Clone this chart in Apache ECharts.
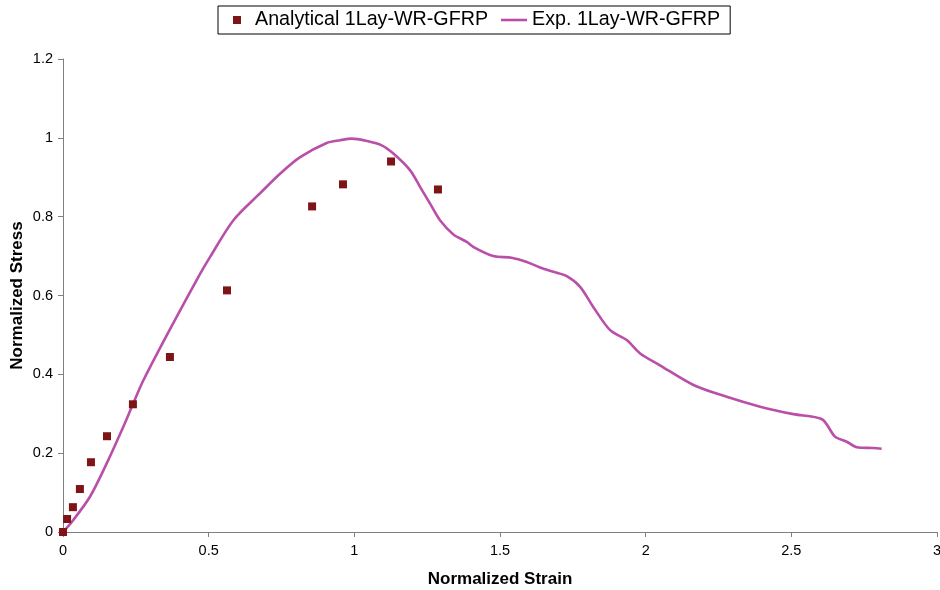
<!DOCTYPE html>
<html>
<head>
<meta charset="utf-8">
<script src="https://cdn.jsdelivr.net/npm/echarts@6/dist/echarts.min.js"></script>
<style>html,body{margin:0;padding:0;background:#fff}#c{width:940px;height:590px}</style>
</head>
<body>
<div id="c"></div>
<script>
var analyticalStrain = [0, 0.014, 0.034, 0.058, 0.096, 0.151, 0.240, 0.367, 0.563, 0.855, 0.961, 1.126, 1.287];
var analyticalStress = [0, 0.033, 0.063, 0.109, 0.177, 0.243, 0.324, 0.444, 0.613, 0.826, 0.882, 0.940, 0.869];
var expStrain = [0, 0.035, 0.093, 0.150, 0.207, 0.241, 0.276, 0.372, 0.470, 0.505, 0.585, 0.676, 0.745, 0.814, 0.905, 0.951, 0.991, 1.043, 1.094, 1.134, 1.191, 1.226, 1.260, 1.294, 1.340, 1.386, 1.409, 1.477, 1.540, 1.592, 1.637, 1.683, 1.729, 1.775, 1.820, 1.878, 1.935, 1.981, 2.049, 2.164, 2.278, 2.393, 2.507, 2.605, 2.650, 2.690, 2.725, 2.782, 2.810];
var expStress = [0, 0.030, 0.090, 0.174, 0.267, 0.326, 0.385, 0.521, 0.654, 0.698, 0.791, 0.859, 0.909, 0.951, 0.987, 0.994, 0.998, 0.992, 0.981, 0.960, 0.918, 0.875, 0.833, 0.791, 0.755, 0.736, 0.723, 0.700, 0.696, 0.685, 0.671, 0.660, 0.649, 0.622, 0.571, 0.512, 0.487, 0.453, 0.423, 0.373, 0.343, 0.318, 0.299, 0.286, 0.242, 0.229, 0.215, 0.213, 0.211];
var seriesNames = ['Analytical 1Lay-WR-GFRP', 'Exp. 1Lay-WR-GFRP'];

var aData = analyticalStrain.map(function (x, i) { return [x, analyticalStress[i]]; });
var eData = expStrain.map(function (x, i) { return [x, expStress[i]]; });

var markerColor = '#7F1416';
var lineColor = '#B94FA9';
var chart = echarts.init(document.getElementById('c'), null, {renderer: 'canvas'});
var font = 'Liberation Sans, Arial, sans-serif';
chart.setOption({
  animation: false,
  backgroundColor: '#fff',
  textStyle: {fontFamily: font},
  legend: {
    top: 6, left: 218,
    borderColor: '#000', borderWidth: 1,
    padding: [4, 10, 4, 15],
    itemGap: 13,
    itemWidth: 26, itemHeight: 8,
    symbolKeepAspect: true,
    textStyle: {fontSize: 19.7, color: '#000', fontFamily: font},
    data: [
      {name: seriesNames[0], icon: 'path://M0,0 h8 v8 h-8 Z', itemStyle: {color: markerColor, opacity: 1}},
      {name: seriesNames[1], icon: 'path://M0,0 h26 v2.6 h-26 Z', itemStyle: {color: lineColor, opacity: 1}}
    ]
  },
  grid: {left: 63, right: 3, top: 59, bottom: 58, containLabel: false, outerBoundsMode: 'none'},
  xAxis: {
    type: 'value', min: 0, max: 3, interval: 0.5,
    name: 'Normalized Strain', nameLocation: 'middle', nameGap: 39, nameMoveOverlap: false,
    nameTextStyle: {fontSize: 17, fontWeight: 'bold', color: '#000', fontFamily: font},
    axisLine: {lineStyle: {color: '#808080', width: 1}},
    axisTick: {length: 5, lineStyle: {color: '#808080'}},
    axisLabel: {fontSize: 14.5, color: '#000', margin: 11, showMaxLabel: true},
    splitLine: {show: false}
  },
  yAxis: {
    type: 'value', min: 0, max: 1.2, interval: 0.2,
    name: 'Normalized Stress', nameLocation: 'middle', nameGap: 37, nameMoveOverlap: false,
    nameTextStyle: {fontSize: 17, fontWeight: 'bold', color: '#000', fontFamily: font},
    axisLine: {show: true, lineStyle: {color: '#808080', width: 1}},
    axisTick: {show: true, length: 5, lineStyle: {color: '#808080'}},
    axisLabel: {fontSize: 14.5, color: '#000', margin: 10},
    splitLine: {show: false}
  },
  series: [
    {
      name: seriesNames[0], type: 'scatter', symbol: 'rect', symbolSize: 8,
      itemStyle: {color: markerColor, opacity: 1}, data: aData, z: 3
    },
    {
      name: seriesNames[1], type: 'line', showSymbol: false, symbol: 'none', smooth: 0.3,
      lineStyle: {color: lineColor, width: 2.6}, itemStyle: {color: lineColor},
      data: eData, z: 2
    }
  ]
});
</script>
</body>
</html>
